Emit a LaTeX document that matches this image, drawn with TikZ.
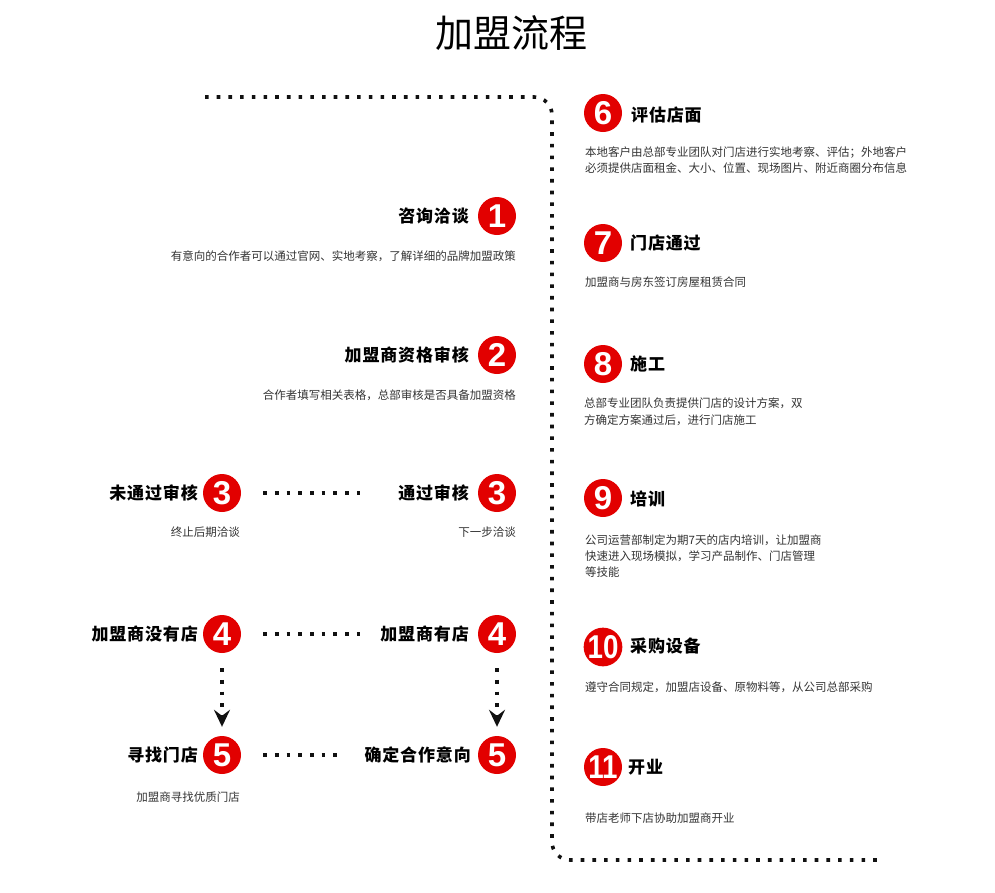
\documentclass[tikz,border=0pt]{standalone}
\usepackage{fontspec}
\setmainfont{Liberation Sans}
\newfontfamily\cjk{Noto Sans CJK SC}
\newfontfamily\cjkhead{Noto Sans CJK SC}[LetterSpace=5]
\usetikzlibrary{arrows.meta}
\definecolor{circred}{RGB}{226,0,0}
\definecolor{dotc}{RGB}{17,17,17}
\definecolor{desc}{RGB}{51,51,51}
\tikzset{
  num/.style={circle,fill=circred,minimum size=38pt,inner sep=0pt,text=white,
    font=\fontsize{33}{33}\selectfont\bfseries},
  head/.style={inner sep=0pt,text=black,font=\cjkhead\bfseries\fontsize{17}{20}\selectfont},
  descr/.style={inner sep=0pt,text=desc,align=left,font=\cjk\fontsize{11.5}{16}\selectfont},
  dots/.style={draw=dotc,line width=3.6pt,dash pattern=on 3.6pt off 8.1pt},
  arr/.style={dots,-{Stealth[length=17pt,width=16pt,inset=6pt]}}
}
\begin{document}
\begin{tikzpicture}[x=1pt,y=-1pt]
\useasboundingbox (0,0) rectangle (995,892);
% title
\node[inner sep=0pt,font=\cjk\fontsize{38}{42}\selectfont] (title) at (511,33) {加盟流程};
% main dotted line
\coordinate (p0) at (205,97);
\coordinate (p1) at (552,97);
\coordinate (p2) at (552,860);
\coordinate (p3) at (882,860);
\draw[dots,rounded corners=18pt] (p0) -- (p1) -- (p2) -- (p3);
% left column
\node[num] (c1) at (497,216) {1};
\node[head,anchor=east] (t1) at (469,216) {咨询洽谈};
\node[descr,anchor=east] (d1) at (516,256) {有意向的合作者可以通过官网、实地考察，了解详细的品牌加盟政策};
\node[num] (c2) at (497,355) {2};
\node[head,anchor=east] (t2) at (469,355) {加盟商资格审核};
\node[descr,anchor=east] (d2) at (516,395) {合作者填写相关表格，总部审核是否具备加盟资格};
\node[num] (c3l) at (222,493) {3};
\node[head,anchor=east] (t3l) at (198,493) {未通过审核};
\node[descr,anchor=east] (d3l) at (240,532) {终止后期洽谈};
\node[num] (c3r) at (497,493) {3};
\node[head,anchor=east] (t3r) at (469,493) {通过审核};
\node[descr,anchor=east] (d3r) at (516,532) {下一步洽谈};
\node[num] (c4l) at (222,634) {4};
\node[head,anchor=east] (t4l) at (198,634) {加盟商没有店};
\node[num] (c4r) at (497,634) {4};
\node[head,anchor=east] (t4r) at (469,634) {加盟商有店};
\node[num] (c5l) at (222,755) {5};
\node[head,anchor=east] (t5l) at (198,755) {寻找门店};
\node[descr,anchor=east] (d5l) at (240,797) {加盟商寻找优质门店};
\node[num] (c5r) at (497,755) {5};
\node[head,anchor=east] (t5r) at (471,755) {确定合作意向};
% connectors
\draw[dots,shorten <=22pt,shorten >=35pt] (c3l.east) -- (t3r.west);
\draw[dots,shorten <=22pt,shorten >=20pt] (c4l.east) -- (t4r.west);
\draw[dots,shorten <=22pt,shorten >=22pt] (c5l.east) -- (t5r.west);
\draw[arr,shorten <=15pt,shorten >=9pt] (c4l.south) -- (c5l.north);
\draw[arr,shorten <=15pt,shorten >=9pt] (c4r.south) -- (c5r.north);
% right column
\node[num] (c6) at (603,113) {6};
\node[head,anchor=west] (t6) at (631,115) {评估店面};
\node[descr,anchor=north west] (d6) at (585,147) {本地客户由总部专业团队对门店进行实地考察、评估；外地客户\\必须提供店面租金、大小、位置、现场图片、附近商圈分布信息};
\node[num] (c7) at (603,243) {7};
\node[head,anchor=west] (t7) at (630,243) {门店通过};
\node[descr,anchor=north west] (d7) at (585,277) {加盟商与房东签订房屋租赁合同};
\node[num] (c8) at (603,364) {8};
\node[head,anchor=west] (t8) at (630,364) {施工};
\node[descr,anchor=north west,font=\cjk\fontsize{11.5}{17}\selectfont] (d8) at (584,398) {总部专业团队负责提供门店的设计方案，双\\方确定方案通过后，进行门店施工};
\node[num] (c9) at (603,498) {9};
\node[head,anchor=west] (t9) at (630,499) {培训};
\node[descr,anchor=north west] (d9) at (585,535) {公司运营部制定为期7天的店内培训，让加盟商\\快速进入现场模拟，学习产品制作、门店管理\\等技能};
\node[num] (c10) at (603,647) {\scalebox{0.84}[1]{10}};
\node[head,anchor=west] (t10) at (630,646) {采购设备};
\node[descr,anchor=north west] (d10) at (585,682) {遵守合同规定，加盟店设备、原物料等，从公司总部采购};
\node[num] (c11) at (603,767) {\scalebox{0.84}[1]{11}};
\node[head,anchor=west] (t11) at (628,767) {开业};
\node[descr,anchor=north west] (d11) at (585,813) {带店老师下店协助加盟商开业};
\end{tikzpicture}
\end{document}
